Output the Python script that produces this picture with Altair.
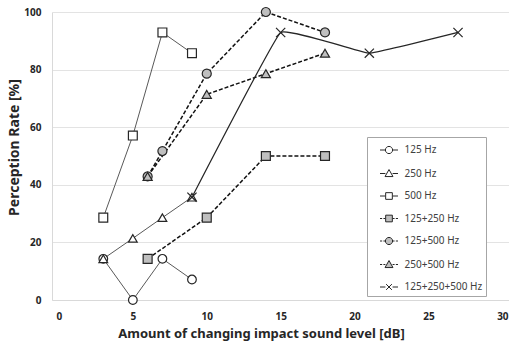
import altair as alt
import pandas as pd

# ---- data ----
series_names = ["125 Hz", "250 Hz", "500 Hz", "125+250 Hz", "125+500 Hz", "250+500 Hz", "125+250+500 Hz"]
x_125 = [3, 5, 7, 9]
y_125 = [14.3, 0, 14.3, 7.1]
x_250 = [3, 5, 7, 9]
y_250 = [14.3, 21.4, 28.6, 35.7]
x_500 = [3, 5, 7, 9]
y_500 = [28.6, 57.1, 92.9, 85.7]
x_125_250 = [6, 10, 14, 18]
y_125_250 = [14.3, 28.6, 50.0, 50.0]
x_125_500 = [6, 7, 10, 14, 18]
y_125_500 = [42.9, 51.7, 78.6, 100.0, 92.9]
x_250_500 = [6, 10, 14, 18]
y_250_500 = [42.9, 71.4, 78.6, 85.7]
x_all = [9, 15, 21, 27]
y_all = [35.7, 92.9, 85.7, 92.9]

x_ticks = [0, 5, 10, 15, 20, 25, 30]
y_ticks = [0, 20, 40, 60, 80, 100]

xs = [x_125, x_250, x_500, x_125_250, x_125_500, x_250_500, x_all]
ys = [y_125, y_250, y_500, y_125_250, y_125_500, y_250_500, y_all]
rows = []
for name, xv, yv in zip(series_names, xs, ys):
    for a, b in zip(xv, yv):
        rows.append({"series": name, "x": a, "y": b})
df = pd.DataFrame(rows)

singles = series_names[:3]
combos = series_names[3:6]
smooth = series_names[6]

# ---- styles ----
FONT = "Noto Sans"
marker_shapes = ["circle", "triangle-up", "square", "square", "circle", "triangle-up",
                 "M-1,-1L1,1M-1,1L1,-1"]
marker_sizes = [75, 85, 75, 75, 75, 85, 45]
fills = ["white", "white", "white", "#bfbfbf", "#bfbfbf", "#bfbfbf", "white"]
strokes = ["#262626"] * 7

solid_seg = "M-1,0H-0.4M0.4,0H1"
dash_seg = "M-1,0H-0.76M-0.62,0H-0.4M0.4,0H0.62M0.76,0H1"
circ = "M0.4,0A0.4,0.4,0,1,1,-0.4,0A0.4,0.4,0,1,1,0.4,0Z"
tri = "M0,-0.44L0.44,0.34L-0.44,0.34Z"
sq = "M-0.37,-0.37H0.37V0.37H-0.37Z"
ex = "M-0.32,-0.32L0.32,0.32M-0.32,0.32L0.32,-0.32"
legend_paths = [solid_seg + circ, solid_seg + tri, solid_seg + sq,
                dash_seg + sq, dash_seg + circ, dash_seg + tri, solid_seg + ex]

x_enc = alt.X("x:Q", scale=alt.Scale(domain=[-0.47, 30.45], nice=False, zero=False),
              axis=alt.Axis(values=x_ticks, grid=False, ticks=False, domainColor="#d9d9d9",
                            labelPadding=11, labelFont=FONT, labelFontSize=10,
                            labelFontWeight="bold", labelColor="#262626",
                            title="Amount of changing impact sound level [dB]",
                            titleFont=FONT, titleFontSize=13, titleFontWeight="bold",
                            titleColor="#262626", titleX=209, titleY=33,
                            titleBaseline="middle"))
y_enc = alt.Y("y:Q", scale=alt.Scale(domain=[0, 100], nice=False),
              axis=alt.Axis(values=y_ticks, grid=True, gridColor="#e3e3e3", ticks=False,
                            domainColor="#d9d9d9", labelPadding=11, labelFont=FONT,
                            labelFontSize=10, labelFontWeight="bold", labelColor="#262626",
                            title="Perception Rate [%]", titleFont=FONT, titleFontSize=14,
                            titleFontWeight="bold", titleColor="#262626",
                            titleX=-38, titleY=135, titleBaseline="middle"))

base = alt.Chart(df).encode(x=x_enc, y=y_enc)

solid_lines = base.transform_filter(
    alt.FieldOneOfPredicate(field="series", oneOf=singles)
).mark_line(color="#595959", strokeWidth=1).encode(detail="series:N")

dashed_lines = base.transform_filter(
    alt.FieldOneOfPredicate(field="series", oneOf=combos)
).mark_line(color="#111111", strokeWidth=1.5, strokeDash=[4, 2]).encode(detail="series:N")

smooth_line = base.transform_filter(
    alt.FieldEqualPredicate(field="series", equal=smooth)
).mark_line(color="#262626", strokeWidth=1.2, interpolate="cardinal", tension=0.8)

points = base.mark_point(filled=False, stroke="#262626", strokeWidth=1.2, opacity=1).encode(
    shape=alt.Shape("series:N", scale=alt.Scale(domain=series_names, range=marker_shapes), legend=None),
    fill=alt.Fill("series:N", scale=alt.Scale(domain=series_names, range=fills), legend=None),
    size=alt.Size("series:N", scale=alt.Scale(domain=series_names, range=marker_sizes), legend=None),
)


def make_legend():
    return alt.Legend(title=None, orient="none", legendX=315, legendY=125,
                      padding=3.5, symbolOffset=9, labelOffset=6, rowPadding=7.5,
                      symbolSize=324, symbolStrokeWidth=1,
                      labelFont=FONT, labelFontSize=10, labelColor="#404040",
                      strokeColor="#a6a6a6", fillColor="white")


legend_layer = base.transform_filter("false").mark_point(
    filled=False, strokeWidth=1, size=324, opacity=1
).encode(
    shape=alt.Shape("series:N", scale=alt.Scale(domain=series_names, range=legend_paths),
                    legend=make_legend()),
    fill=alt.Fill("series:N", scale=alt.Scale(domain=series_names, range=fills),
                  legend=make_legend()),
    stroke=alt.Stroke("series:N", scale=alt.Scale(domain=series_names, range=strokes),
                      legend=make_legend()),
)

chart = alt.layer(solid_lines, dashed_lines, smooth_line, points, legend_layer).resolve_scale(
    shape="independent", fill="independent", size="independent", stroke="independent"
).properties(
    width=457, height=288,
    padding={"left": 52, "top": 12, "right": 0, "bottom": 41},
    autosize=alt.AutoSizeParams(type="none"),
    background="white",
).configure_view(stroke=None)

chart.save("out.html", embed_options={"renderer": "svg", "actions": False})
